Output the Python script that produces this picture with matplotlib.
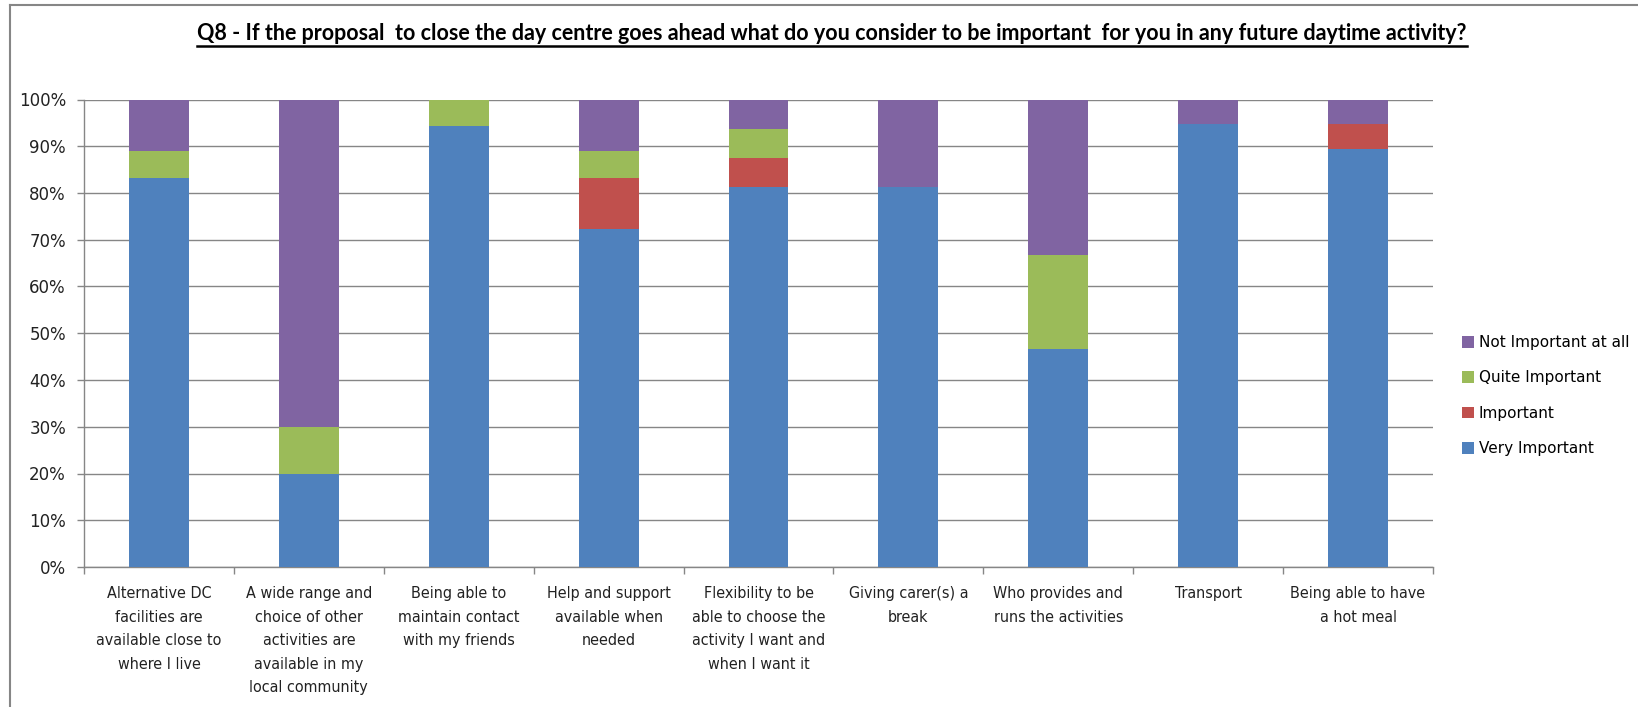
import matplotlib
matplotlib.use("Agg")
from matplotlib import pyplot as plt
from matplotlib import font_manager
from matplotlib.lines import Line2D
from matplotlib.patches import Patch
import numpy as np

categories = [
    "Alternative DC\nfacilities are\navailable close to\nwhere I live",
    "A wide range and\nchoice of other\nactivities are\navailable in my\nlocal community",
    "Being able to\nmaintain contact\nwith my friends",
    "Help and support\navailable when\nneeded",
    "Flexibility to be\nable to choose the\nactivity I want and\nwhen I want it",
    "Giving carer(s) a\nbreak",
    "Who provides and\nruns the activities",
    "Transport",
    "Being able to have\na hot meal",
]
very_important = [83.3, 20.0, 94.4, 72.2, 81.25, 81.25, 46.7, 94.7, 89.5]
important = [0.0, 0.0, 0.0, 11.1, 6.25, 0.0, 0.0, 0.0, 5.3]
quite_important = [5.6, 10.0, 5.6, 5.6, 6.25, 0.0, 20.0, 0.0, 0.0]
not_important = [11.1, 70.0, 0.0, 11.1, 6.25, 18.75, 33.3, 5.3, 5.2]

series = [
    ("Very Important", very_important, "#4F81BD"),
    ("Important", important, "#C0504D"),
    ("Quite Important", quite_important, "#9BBB59"),
    ("Not Important at all", not_important, "#8064A2"),
]
title = ("Q8 - If the proposal  to close the day centre goes ahead what do you "
         "consider to be important  for you in any future daytime activity?")


def pick_narrow():
    for fam in ["Liberation Sans Narrow"]:
        try:
            font_manager.findfont(font_manager.FontProperties(family=fam),
                                  fallback_to_default=False)
            return dict(family=fam)
        except Exception:
            pass
    path = font_manager.findfont(font_manager.FontProperties(family="DejaVu Sans",
                                                             stretch="condensed"))
    if "Condensed" in path:
        return dict(family="DejaVu Sans", stretch="condensed")
    return dict(family="Lato")


W, H = 1638, 707
fig = plt.figure(figsize=(W / 100, H / 100), dpi=100)
grey = "#868686"

ax = fig.add_axes([84 / W, 140 / H, (1433 - 84) / W, (607.5 - 140) / H])
x = np.arange(len(categories))
bottom = np.zeros(len(categories))
for name, vals, col in series:
    vals = np.array(vals) / 100.0
    ax.bar(x, vals, width=0.4, bottom=bottom, color=col, label=name, zorder=3)
    bottom += vals

ax.set_xlim(-0.5, len(categories) - 0.5)
ax.set_ylim(0, 1)
ax.set_yticks(np.arange(0, 1.01, 0.1))
ax.set_yticklabels([f"{int(round(v * 100))}%" for v in np.arange(0, 1.01, 0.1)],
                   family="DejaVu Sans", fontsize=12, color="#222222")
ax.yaxis.grid(True, color=grey, lw=1, zorder=0)
ax.tick_params(axis="y", direction="out", length=5, width=1, color=grey, pad=8)

ax.set_xticks(x)
narrow = pick_narrow()
ax.set_xticklabels(categories, fontsize=11.5, va="top", linespacing=1.7,
                   color="#222222", **narrow)
ax.set_xticks(np.arange(-0.5, len(categories)), minor=True)
ax.tick_params(axis="x", which="major", length=0, pad=14)
ax.tick_params(axis="x", which="minor", direction="out", length=5, width=1, color=grey)

for side in ["top", "right"]:
    ax.spines[side].set_visible(False)
for side in ["left", "bottom"]:
    ax.spines[side].set_color(grey)
    ax.spines[side].set_linewidth(1)

handles = [Patch(facecolor=col, label=name) for name, _, col in series][::-1]
fig.legend(handles=handles, loc="upper left", bbox_to_anchor=(1462 / W, 1 - 335 / H),
           frameon=False, prop={"family": "DejaVu Sans", "size": 11},
           handlelength=0.8, handleheight=0.8, handletextpad=0.3,
           labelspacing=1.34, borderpad=0, borderaxespad=0)

t = fig.text(832 / W, 1 - 33 / H, title, ha="center", va="center",
             family="Lato", fontweight="bold", fontsize=15.5)

# frame of the surrounding box
fig.add_artist(Line2D([10 / W, 1], [1 - 5 / H, 1 - 5 / H], color=grey, lw=1.5))
fig.add_artist(Line2D([10 / W, 10 / W], [0, 1 - 5 / H], color=grey, lw=1.5))

fig.canvas.draw()
bb = t.get_window_extent().transformed(fig.transFigure.inverted())
fig.add_artist(Line2D([bb.x0, bb.x1], [1 - 46 / H, 1 - 46 / H], color="black", lw=1.8))

fig.savefig("out.png", dpi=100)
